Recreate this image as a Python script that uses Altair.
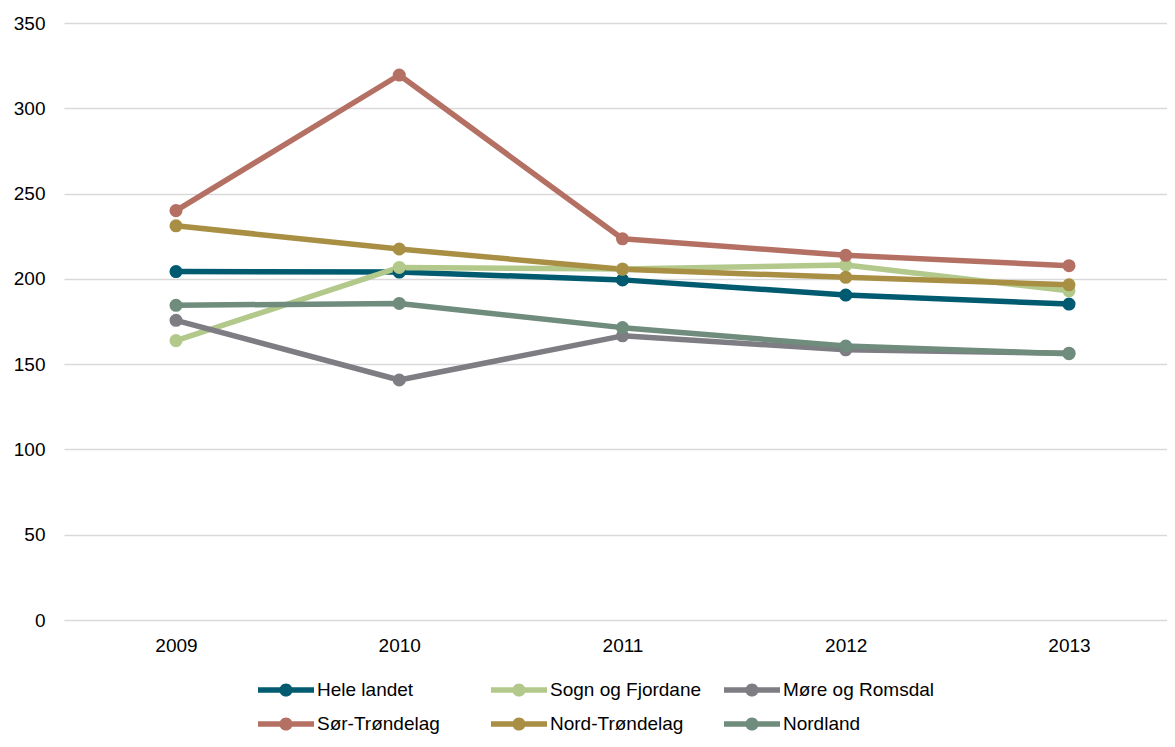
import altair as alt
import pandas as pd

years = [2009, 2010, 2011, 2012, 2013]
series_names = ["Hele landet", "Sogn og Fjordane", "Møre og Romsdal",
                "Sør-Trøndelag", "Nord-Trøndelag", "Nordland"]
hele_landet = [204.3, 204.0, 199.4, 190.5, 185.2]
sogn_og_fjordane = [163.8, 206.7, 205.8, 208.1, 193.0]
more_og_romsdal = [175.7, 140.7, 166.6, 158.4, 156.4]
sor_trondelag = [240.0, 319.5, 223.5, 213.8, 207.7]
nord_trondelag = [231.1, 217.5, 205.6, 200.9, 196.5]
nordland = [184.5, 185.6, 171.4, 160.6, 156.1]
colors = ["#005a70", "#b2c98b", "#7e7d83", "#b57064", "#a98f43", "#6f8c7c"]
y_ticks = [0, 50, 100, 150, 200, 250, 300, 350]

all_values = [hele_landet, sogn_og_fjordane, more_og_romsdal,
              sor_trondelag, nord_trondelag, nordland]
rows = []
for i, (name, vals) in enumerate(zip(series_names, all_values)):
    for yr, v in zip(years, vals):
        rows.append({"serie": name, "year": yr, "value": v, "idx": i})
df = pd.DataFrame(rows)

FONT = "Liberation Sans"
FS = 19
color_scale = alt.Scale(domain=series_names, range=colors)

x_enc = alt.X(
    "year:Q",
    scale=alt.Scale(domain=[2008.4983, 2013.439], nice=False, zero=False),
    axis=alt.Axis(values=years, format="d", title=None, grid=False, ticks=False,
                  domain=False, labelFontSize=FS, labelFont=FONT,
                  labelColor="#000000", labelPadding=16),
)
y_enc = alt.Y(
    "value:Q",
    scale=alt.Scale(domain=[0, 350], nice=False),
    axis=alt.Axis(values=y_ticks, title=None, ticks=False, domain=False,
                  gridColor="#d9d9d9", gridWidth=1.5, labelFontSize=FS,
                  labelFont=FONT, labelColor="#000000", labelPadding=19),
)

legend_path = ("M-2,-0.2L2,-0.2L2,0.2L-2,0.2Z "
               "M0.47,0A0.47,0.47 0 1,1 -0.47,0A0.47,0.47 0 1,1 0.47,0Z")

lines = alt.Chart(df).mark_line(strokeWidth=5.5, strokeCap="round",
                                strokeJoin="round").encode(
    x=x_enc, y=y_enc,
    color=alt.Color("serie:N", scale=color_scale, legend=None),
    order=alt.Order("year:Q"),
)

points = alt.Chart(df).mark_point(filled=True, size=170, opacity=1).encode(
    x=x_enc, y=y_enc,
    color=alt.Color(
        "serie:N", scale=color_scale,
        legend=alt.Legend(
            title=None, orient="none", legendX=194, legendY=653,
            columns=3, gridAlign="all", direction="horizontal",
            symbolType=legend_path, symbolSize=784, symbolOffset=14,
            symbolStrokeWidth=0, labelOffset=17, columnPadding=22,
            rowPadding=10, padding=0, labelFontSize=FS, labelFont=FONT,
            labelColor="#000000", labelLimit=300,
        ),
    ),
)

chart = alt.layer(lines, points).resolve_legend(color="independent").properties(
    width=1103, height=597,
    autosize=alt.AutoSizeParams(type="none"),
    padding={"left": 56, "top": 15, "right": 0, "bottom": 115},
).configure_view(stroke=None)

chart.save("out.html", embed_options={"renderer": "svg", "actions": False})
